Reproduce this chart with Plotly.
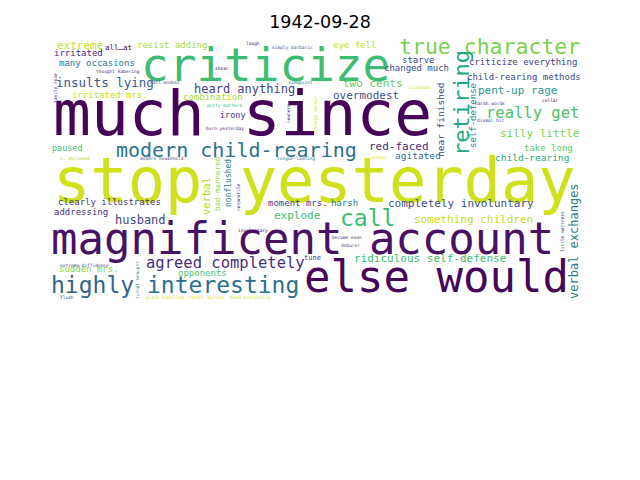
import plotly.graph_objects as go

# word cloud for one day, positions (screen px of the image area)
words = [
    "stop yesterday", "much since", "magnificent account", "else would", "criticize",
    "true character", "retiring", "modern child-rearing", "call", "highly",
    "interesting", "agreed completely", "heard anything", "insults lying", "really get",
    "verbal exchanges", "two cents", "overmodest", "pent-up rage", "silly little",
    "red-faced", "completely involuntary", "something children", "ridiculous self-defense", "explode",
    "husband.", "extreme", "resist adding", "irritated", "many occasions",
    "irritated mrs.", "combination", "irony", "eye fell", "starve",
    "changed much", "criticize everything", "child-rearing methods", "near finished", "self-defense",
    "agitated", "take long", "child-rearing", "harsh", "moment mrs.",
    "clearly illustrates", "addressing", "paused", "verbal", "bad-mannered",
    "nonflushed", "sudden mrs.", "opponents", "all…at", "tune",
    "thought kabering", "family rose", "call modest", "shear", "petty matters",
    "born yesterday", "laugh", "simply barbaric", "viewpoint", "nowhere.",
    "strange vermin", "slapdash", "harsh words", "cellar", "dismal hit",
    "change", "little mattress", "become even", "deburer", "involuntary",
    "s. shrieked", "modern household", "tongue-lashing", "nonprofile", "extreme diffidence",
    "tunnel brought", "flush", "plain kabering", "rather agreed", "mean everything",
]
word_x = [
    314, 242, 302, 436, 265,
    489, 461, 236, 367, 92,
    223, 225, 244, 105, 532,
    574, 373, 366, 517, 539,
    399, 461, 473, 430, 297,
    144, 80, 172, 78, 97,
    110, 213, 233, 354, 418,
    416, 523, 524, 440, 473,
    418, 548, 532, 344, 298,
    109, 81, 67, 206, 217,
    228, 89, 202, 118, 312,
    118, 55, 165, 222, 225,
    225, 253, 292, 300, 288,
    315, 420, 490, 550, 490,
    378, 562, 347, 350, 253,
    75, 162, 296, 238, 84,
    137, 67, 165, 206, 250,
]
word_y = [
    180, 113, 238, 276, 65,
    46, 103, 150, 218, 285,
    285, 263, 89, 82, 113,
    241, 83, 95, 90, 133,
    146, 203, 219, 258, 215,
    220, 45, 45, 53, 63,
    95, 97, 115, 45, 60,
    68, 62, 77, 120, 116,
    155, 148, 157, 203, 203,
    202, 212, 148, 196, 184,
    183, 269, 273, 47, 258,
    71, 88, 82, 68, 105,
    128, 43, 47, 82, 112,
    115, 87, 103, 100, 120,
    157, 232, 237, 245, 230,
    158, 158, 158, 198, 265,
    280, 297, 297, 297, 297,
]
word_size = [
    62, 63, 44, 44, 46,
    21.5, 22, 20, 23, 23,
    23, 15.5, 12, 12.5, 15.5,
    12, 11, 11, 11, 11,
    11, 11, 11, 11, 11,
    12, 11, 9, 9, 9,
    9, 9, 8.5, 9, 9,
    9, 9, 9, 9.5, 9,
    9.5, 9, 9.5, 9, 9,
    9, 9, 8.5, 10.5, 7.5,
    8, 9, 9, 7.5, 7,
    4.5, 4.5, 4.5, 4.5, 4.5,
    4.5, 4.5, 4.5, 4.5, 4.5,
    4.5, 4.5, 4.5, 4.5, 4.5,
    4.5, 4.5, 4.5, 4.5, 4.5,
    4.5, 4.5, 4.5, 4.5, 4.5,
    4.5, 4.5, 4.5, 4.5, 4.5,
]
word_color = [
    "#d0e11c", "#450457", "#471164", "#46075a", "#3fbc73",
    "#7ad151", "#22a884", "#2c728e", "#3bbb75", "#33638d",
    "#2d708e", "#472f7d", "#433e85", "#3b5a8c", "#4ec36b",
    "#287d8e", "#6ccd5a", "#3b528b", "#1f9a8a", "#7ad151",
    "#472d7b", "#3d4d8a", "#c5e021", "#3dbc74", "#40bd72",
    "#3f4788", "#bddf26", "#a2da37", "#472c7a", "#2a768e",
    "#c2df23", "#a5db36", "#443983", "#c0df25", "#3f4788",
    "#3e4a89", "#443b84", "#3f4889", "#404588", "#25858e",
    "#2d708e", "#5ec962", "#25ac82", "#26828e", "#414487",
    "#453781", "#46327e", "#40bd72", "#b2dd2d", "#95d840",
    "#2a788e", "#84d44b", "#4ac16d", "#440154", "#453781",
    "#482878", "#414487", "#3e4a89", "#440154", "#35b779",
    "#482878", "#482878", "#3e4a89", "#2a788e", "#46337f",
    "#c8e020", "#d8e219", "#482878", "#440154", "#3e4a89",
    "#e5e419", "#482878", "#482878", "#3e4a89", "#440154",
    "#a8db34", "#414487", "#2a788e", "#482878", "#414487",
    "#26828e", "#3e4a89", "#d8e219", "#d8e219", "#d8e219",
]
# words drawn upright (reading bottom to top)
vertical = {
    "retiring", "verbal exchanges", "near finished", "self-defense", "verbal",
    "bad-mannered", "nonflushed", "family rose", "nowhere.", "strange vermin",
    "little mattress", "nonprofile", "tunnel brought",
}

fig = go.Figure()
for w, x, y, s, c in zip(words, word_x, word_y, word_size, word_color):
    fig.add_annotation(
        x=x, y=y, xref="x", yref="y",
        text=w, showarrow=False,
        textangle=-90 if w in vertical else 0,
        font=dict(family="DejaVu Sans Mono", size=s, color=c),
        xanchor="center", yanchor="middle",
        borderpad=0,
    )

fig.update_xaxes(range=[52, 588], visible=False, fixedrange=True)
fig.update_yaxes(range=[306, 38], visible=False, fixedrange=True)
# the page body adds an 8px margin, so the plot area is moved up/left by 8
fig.update_layout(
    width=640, height=480, autosize=False,
    margin=dict(l=44, r=60, t=30, b=182, pad=0),
    paper_bgcolor="white", plot_bgcolor="white",
    showlegend=False,
    title=dict(
        text="1942-09-28", x=0.5, xref="paper", xanchor="center",
        y=1 - 14 / 480, yanchor="middle", yref="container",
        font=dict(family="DejaVu Sans", size=17.5, color="black"),
    ),
)
fig.write_html("out.html")
